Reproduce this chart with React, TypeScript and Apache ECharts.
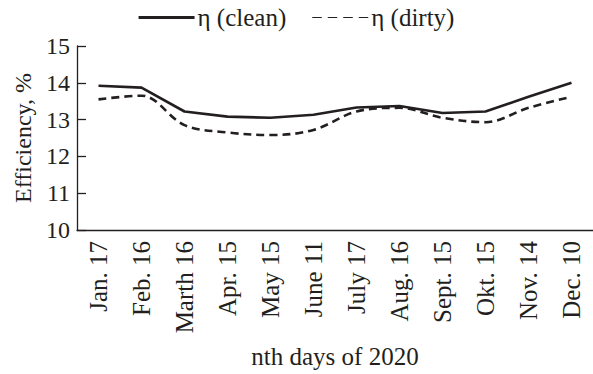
import React, { useEffect, useRef } from "react";
import * as echarts from "echarts";

const categories = ["Jan. 17", "Feb. 16", "Marth 16", "Apr. 15", "May 15", "June 11", "July 17", "Aug. 16", "Sept. 15", "Okt. 15", "Nov. 14", "Dec. 10"];
const cleanValues = [13.92, 13.87, 13.22, 13.08, 13.05, 13.13, 13.33, 13.37, 13.18, 13.22, 13.62, 14.0];
const dirtyValues = [13.55, 13.65, 12.85, 12.65, 12.58, 12.72, 13.22, 13.32, 13.05, 12.93, 13.32, 13.62];
const seriesNames = ["η (clean)", "η (dirty)"];

const FONT = "Liberation Serif";
const INK = "#231f20";
const DASH_ICON = "path://M0,0h8v1h-8z M13,0h8v1h-8z M26,0h8v1h-8z M39,0h8v1h-8z";

export default function App() {
  const ref = useRef<HTMLDivElement>(null);
  useEffect(() => {
    if (!ref.current) return;
    const chart = echarts.init(ref.current, null, { renderer: "svg" });
    chart.setOption({
      animation: false,
      backgroundColor: "#ffffff",
      textStyle: { fontFamily: FONT, color: INK },
      legend: {
        top: 0,
        left: "center",
        itemWidth: 56,
        itemHeight: 3,
        itemGap: 26,
        textStyle: { fontFamily: FONT, fontSize: 25, color: INK, padding: [0, 0, 0, -2] },
        data: [
          { name: seriesNames[0], icon: "rect" },
          { name: seriesNames[1], icon: DASH_ICON },
        ],
      },
      grid: { left: 77, top: 46, width: 521, height: 190, containLabel: false },
      xAxis: {
        type: "category",
        data: categories,
        boundaryGap: true,
        axisLine: { lineStyle: { color: INK, width: 1.3 } },
        axisTick: { inside: true, alignWithLabel: true, length: 8, lineStyle: { color: INK, width: 1.3 } },
        axisLabel: { rotate: 90, fontSize: 25, fontFamily: FONT, color: INK, margin: 11, interval: 0 },
        name: "nth days of 2020",
        nameLocation: "middle",
        nameGap: 114,
        nameTextStyle: { fontSize: 25, fontFamily: FONT, color: INK },
      },
      yAxis: {
        type: "value",
        min: 10,
        max: 15,
        interval: 1,
        splitLine: { show: false },
        axisLine: { show: true, lineStyle: { color: INK, width: 1.3 } },
        axisTick: { show: true, inside: true, length: 9, lineStyle: { color: INK, width: 1.3 } },
        axisLabel: { fontSize: 24, fontFamily: FONT, color: INK, margin: 7 },
        name: "Efficiency, %",
        nameLocation: "middle",
        nameGap: 34,
        nameTextStyle: { fontSize: 24, fontFamily: FONT, color: INK },
      },
      series: [
        {
          name: seriesNames[0],
          type: "line",
          data: cleanValues,
          symbol: "none",
          lineStyle: { color: INK, width: 2.6, type: "solid" },
          itemStyle: { color: INK },
        },
        {
          name: seriesNames[1],
          type: "line",
          data: dirtyValues,
          symbol: "none",
          smooth: 0.35,
          lineStyle: { color: INK, width: 2.6, type: [8, 5] },
          itemStyle: { color: INK },
        },
      ],
    });
    return () => chart.dispose();
  }, []);
  return <div ref={ref} style={{ position: "fixed", left: 0, top: 0, width: 593, height: 374 }} />;
}
